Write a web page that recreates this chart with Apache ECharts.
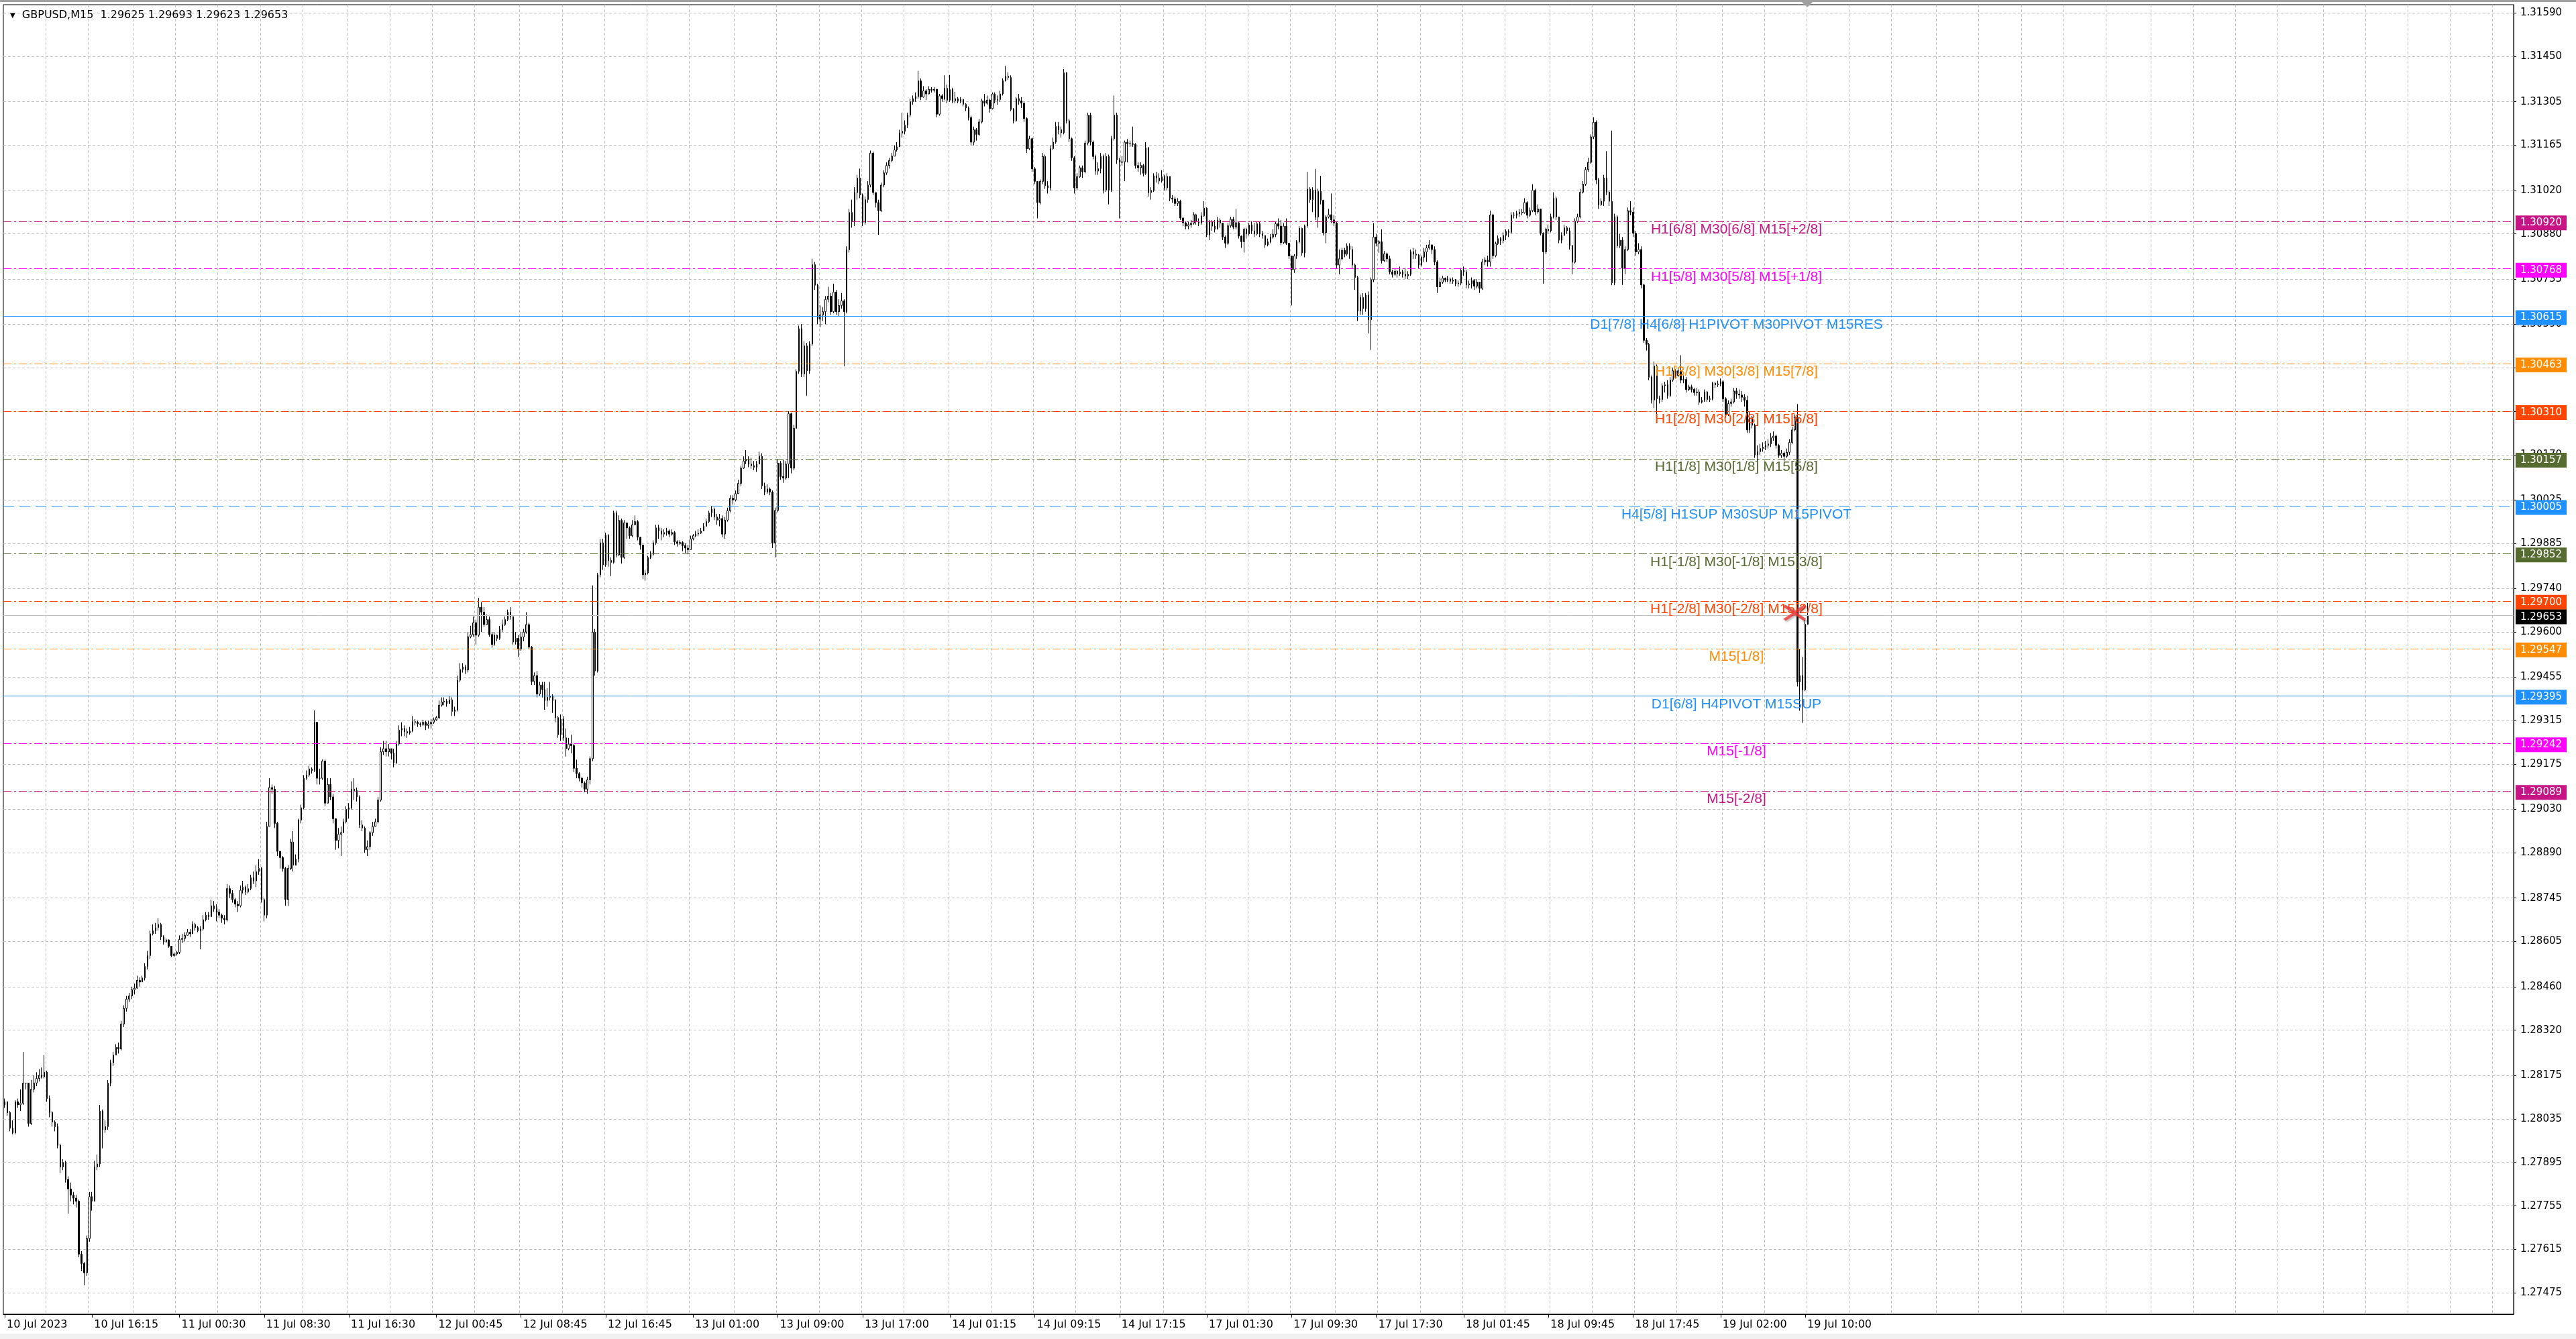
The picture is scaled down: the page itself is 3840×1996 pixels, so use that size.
<!DOCTYPE html>
<html>
<head>
<meta charset="utf-8">
<title>GBPUSD,M15</title>
<script src="https://cdn.jsdelivr.net/npm/echarts@6/dist/echarts.min.js"></script>
<style>
html, body { margin: 0; padding: 0; background: #fff; }
#main { width: 3840px; height: 1996px; }
</style>
</head>
<body>
<div id="main"></div>
<script>
var symbolName = 'GBPUSD,M15';
// prices are stored as points (0.00001) above 1.27000, open of a bar = close of the one before
var basePrice = 1.27;
var firstOpen = 1080;

var closes = [
    // 10 Jul 08:00 ...
    1090,1055,1005,990,1090,1080,1085,1150,1150,1020,
    1130,1150,1165,1175,1170,1185,1100,1055,1025,1010,
    950,880,895,840,810,790,780,770,600,570,
    540,650,785,770,880,890,1060,1000,1010,1150,
    1215,1240,1265,1260,1340,1390,1420,1430,1450,1455,
    1480,1475,1488,1525,1560,1630,1640,1650,1660,1620,
    1605,1610,1590,1560,1565,1570,1612,1615,1625,1635,
    1630,1660,1650,1640,1645,1675,1690,1685,1720,1710,
    1700,1690,1680,1675,1775,1760,1740,1725,1720,1770,
    1780,1765,1775,1810,1800,1830,1840,1740,1690,1975,
    2100,2095,1985,1895,1875,1840,1740,1840,1925,1850,
    1870,1995,2035,2130,2140,2160,2155,2310,2130,2130,
    2185,2050,2110,2070,2000,1930,1950,1955,1990,2030,
    2035,2095,2090,2070,1980,1970,1900,1910,1955,1975,
    1990,2060,2215,2225,2215,2225,2210,2180,2240,2285,
    2290,2280,2275,2282,2312,2310,2305,2303,2310,2300,
    2305,2310,2318,2325,2365,2375,2378,2370,2382,2345,
    2350,2445,2480,2488,2478,2585,2592,2630,2590,2680,
    // bar 180
    2664,2624,2640,2592,2560,2590,2580,2608,2624,2640,
    2664,2650,2568,2580,2545,2584,2600,2624,2552,2441,
    2460,2401,2430,2415,2380,2390,2395,2380,2325,2270,
    2320,2260,2225,2240,2235,2162,2145,2130,2115,2095,
    2125,2193,2600,2475,2784,2887,2816,2911,2830,2824,
    2983,2848,2959,2840,2951,2935,2910,2945,2955,2905,
    2880,2784,2790,2840,2850,2887,2935,2925,2915,2920,
    2925,2915,2920,2890,2885,2888,2878,2870,2865,2900,
    2910,2915,2918,2925,2940,2955,2983,2995,2970,2960,
    2965,2915,2960,2990,3030,3025,3045,3078,3127,3150,
    3155,3140,3135,3130,3140,3165,3070,3050,3060,3050,
    2887,2991,3143,3100,3095,3140,3302,3127,3255,3438,
    3575,3430,3520,3440,3526,3781,3715,3606,3620,3630,
    3670,3680,3630,3693,3630,3650,3665,3630,3829,3949,
    3920,4013,4060,4005,3917,3990,4037,4140,4013,3981,
    3955,4037,4076,4100,4116,4130,4150,4160,4204,4210,
    4230,4262,4305,4315,4322,4372,4320,4340,4330,4345,
    4342,4345,4265,4324,4315,4348,4310,
    // bar 357
    4344,4308,4315,4308,4312,4297,4285,4254,4175,4215,
    4200,4240,4308,4300,4310,4283,4330,4310,4312,4330,
    4373,4387,4383,4280,4244,4315,4308,4300,4251,4154,
    4186,4089,4049,3981,4049,4129,4035,4028,4154,4175,
    4226,4215,4205,4398,4244,4186,4125,4028,4064,4093,
    4080,4172,4262,4175,4129,4082,4090,4129,4021,4129,
    4021,4186,4262,4118,4110,4112,4175,4170,4170,4168,
    4100,4093,4100,4075,4157,4013,4020,4067,4060,4050,
    4064,4028,4065,3995,3992,3978,3985,3931,3916,3905,
    3910,3915,3942,3920,3915,3938,3963,3877,3920,3905,
    3895,3924,3915,3870,3850,3906,3927,3902,3916,3873,
    3855,3895,3880,3909,3890,3880,3913,3880,3875,3845,
    3855,3870,3878,3913,3905,3852,3905,3850,3809,3765,
    3809,3855,3898,3819,3906,4024,3990,4021,3934,4017,
    3988,3884,3934,3942,3925,3915,3780,3800,3827,3815,
    3841,3830,3780,3740,3632,3676,3640,3683,3604,3733,
    3870,3850,3855,3794,3816,3800,3758,3750,3760,3752,
    3758,3750,3745,3750,3823,3815,3812,3780,3805,
    // bar 536
    3822,3835,3845,3830,3790,3710,3725,3738,3732,3735,
    3728,3732,3720,3722,3763,3758,3716,3720,3730,3712,
    3725,3705,3790,3796,3790,3941,3810,3849,3865,3858,
    3875,3888,3885,3941,3940,3945,3950,3948,3981,3940,
    3955,4020,3951,3960,3882,3822,3895,3890,3935,3994,
    3935,3860,3875,3900,3890,3842,3789,3921,3935,4014,
    4040,4087,4110,4192,4239,4054,3974,3985,4060,4014,
    3985,3723,3935,3842,3860,3770,3830,3955,3950,3882,
    3822,3830,3716,3538,3525,3419,3346,3455,3350,3348,
    3392,3395,3360,3410,3440,3425,3440,3410,3412,3380,
    3388,3380,3370,3372,3339,3345,3372,3348,3350,3400,
    3395,3398,3405,3350,3300,3335,3340,3375,3365,3362,
    3355,3345,3250,3290,3265,3170,3180,3190,3195,3200,
    3205,3225,3230,3200,3168,3175,3165,3178,3210,3250,
    3290,2440,2460,2414,2625,2653
];

var highs = [
    1100,1090,1060,1030,1095,1100,1130,1250,1150,1150,
    1160,1175,1185,1195,1200,1240,1190,1110,1060,1030,
    1020,955,905,900,850,830,800,790,775,610,
    575,660,800,800,900,920,1080,1065,1030,1160,
    1225,1250,1275,1280,1350,1400,1430,1440,1460,1470,
    1495,1490,1495,1535,1575,1640,1660,1665,1680,1665,
    1625,1615,1612,1575,1570,1575,1625,1630,1635,1645,
    1645,1670,1665,1655,1655,1690,1700,1700,1740,1735,
    1725,1710,1695,1690,1790,1785,1770,1745,1735,1785,
    1800,1785,1790,1820,1830,1850,1870,1845,1745,1990,
    2130,2110,2105,1990,1895,1880,1845,1850,1935,1960,
    1885,2000,2045,2140,2155,2170,2165,2348,2310,2160,
    2190,2190,2130,2130,2080,1995,1970,1975,2000,2040,
    2050,2120,2130,2100,2075,1995,1975,1930,1960,1990,
    2000,2070,2230,2250,2250,2240,2225,2225,2250,2300,
    2310,2300,2290,2295,2330,2320,2315,2310,2318,2315,
    2315,2320,2325,2330,2380,2390,2390,2385,2395,2390,
    2360,2460,2500,2500,2495,2600,2620,2650,2640,2710,
    2696,2680,2656,2650,2600,2600,2592,2620,2640,2650,
    2672,2680,2650,2600,2590,2600,2610,2664,2630,2555,
    2470,2475,2440,2440,2440,2420,2440,2400,2385,2330,
    2335,2330,2290,2260,2270,2240,2190,2150,2135,2120,
    2135,2200,2750,2610,2790,2900,2900,2920,2915,2840,
    2990,2990,2975,2965,2960,2950,2940,2960,2975,2960,
    2905,2880,2800,2845,2860,2895,2945,2945,2935,2930,
    2935,2930,2930,2925,2895,2895,2892,2885,2880,2910,
    2915,2925,2930,2935,2950,2965,2990,3005,3000,2980,
    2980,2975,2970,3000,3040,3040,3055,3090,3135,3165,
    3185,3165,3160,3150,3150,3180,3175,3080,3075,3065,
    3055,3000,3155,3150,3155,3150,3310,3305,3265,3445,
    3585,3590,3535,3530,3535,3800,3790,3720,3650,3645,
    3680,3710,3690,3720,3700,3670,3690,3670,3840,3960,
    3990,4030,4070,4090,4010,4000,4050,4148,4145,4010,
    3990,4045,4085,4110,4125,4140,4165,4175,4215,4270,
    4245,4270,4315,4325,4335,4404,4380,4355,4345,4355,
    4352,4352,4345,4330,4330,4390,4360,
    4391,4350,4337,4320,4320,4315,4300,4290,4260,4225,
    4220,4250,4315,4330,4325,4315,4335,4335,4325,4340,
    4380,4420,4400,4390,4285,4320,4330,4320,4305,4255,
    4195,4190,4095,4050,4055,4140,4135,4050,4165,4190,
    4240,4240,4225,4410,4400,4250,4190,4130,4075,4100,
    4100,4180,4270,4270,4180,4135,4110,4140,4135,4140,
    4135,4195,4325,4270,4125,4130,4180,4185,4180,4225,
    4172,4110,4110,4105,4175,4160,4030,4075,4080,4075,
    4085,4070,4075,4065,4005,4000,3995,3990,3935,3920,
    3920,3925,3950,3945,3930,3950,3985,3965,3925,3925,
    3925,3935,3930,3915,3875,3915,3935,3935,3960,3920,
    3875,3900,3900,3915,3920,3915,3920,3918,3890,3875,
    3865,3880,3895,3920,3930,3925,3915,3930,3850,3810,
    3815,3860,3905,3900,3910,4080,4030,4030,4089,4025,
    4067,3990,3940,3960,4010,3940,3918,3830,3835,3835,
    3850,3850,3840,3785,3745,3685,3690,3690,3695,3740,
    3915,3880,3860,3895,3825,3820,3810,3765,3770,3765,
    3775,3765,3770,3760,3830,3835,3830,3815,3810,
    3835,3845,3860,3845,3840,3795,3740,3745,3740,3745,
    3740,3740,3735,3730,3770,3775,3765,3730,3740,3735,
    3735,3725,3800,3805,3810,3955,3945,3855,3875,3870,
    3885,3895,3895,3950,3950,3955,3960,3960,3995,3985,
    3965,4040,4025,3975,3955,3885,3900,3910,3945,4014,
    4000,3935,3885,3910,3905,3900,3845,3930,3945,4025,
    4050,4095,4125,4200,4255,4245,4060,3995,4070,4146,
    4020,4212,3945,3940,3880,3870,3840,3965,3985,3965,
    3890,3850,3840,3720,3545,3530,3425,3470,3460,3360,
    3400,3405,3410,3420,3450,3445,3450,3490,3425,3420,
    3395,3395,3385,3385,3380,3355,3380,3375,3360,3405,
    3405,3408,3415,3410,3355,3345,3350,3385,3385,3380,
    3375,3365,3360,3310,3295,3270,3200,3205,3210,3215,
    3220,3240,3245,3235,3205,3185,3180,3190,3220,3260,
    3300,3333,2545,2520,2640,2693
];

var lows = [
    1070,1045,995,985,985,1070,1060,1080,1130,1010,
    1015,1120,1140,1155,1165,1165,1090,1040,1010,995,
    940,860,870,830,730,770,760,750,590,545,
    500,530,640,740,770,870,880,940,990,1000,
    1140,1205,1240,1245,1255,1330,1380,1410,1420,1435,
    1455,1460,1475,1480,1515,1550,1625,1630,1640,1610,
    1595,1600,1585,1555,1555,1560,1565,1600,1605,1625,
    1620,1630,1640,1635,1580,1640,1670,1675,1690,1700,
    1670,1680,1665,1660,1670,1745,1730,1715,1700,1715,
    1760,1755,1760,1770,1790,1780,1820,1730,1670,1680,
    1975,2080,1970,1880,1840,1830,1720,1720,1835,1830,
    1850,1860,1985,2030,2125,2135,2145,2150,2110,2110,
    2125,2040,2100,2060,1985,1900,1905,1880,1960,1985,
    2000,2030,2060,2055,1970,1960,1890,1880,1900,1945,
    1975,1985,2055,2205,2200,2200,2190,2165,2175,2235,
    2265,2265,2260,2270,2278,2300,2295,2295,2298,2285,
    2290,2290,2305,2315,2320,2360,2365,2360,2370,2330,
    2330,2345,2440,2470,2465,2470,2580,2585,2560,2585,
    2600,2616,2630,2585,2550,2555,2570,2575,2600,2620,
    2635,2640,2560,2560,2520,2540,2570,2595,2545,2430,
    2430,2390,2395,2390,2350,2360,2380,2340,2310,2260,
    2250,2250,2200,2220,2210,2150,2130,2120,2100,2085,
    2080,2110,2185,2460,2470,2776,2800,2810,2810,2780,
    2820,2840,2845,2820,2835,2900,2900,2905,2945,2895,
    2865,2770,2765,2785,2835,2845,2880,2900,2895,2905,
    2910,2905,2910,2880,2875,2880,2860,2855,2850,2865,
    2895,2905,2908,2915,2925,2940,2950,2970,2960,2945,
    2940,2905,2900,2955,2985,3010,3020,3045,3070,3125,
    3140,3130,3125,3120,3115,3140,3060,3040,3045,3040,
    2870,2840,2985,3090,3080,3090,3095,3110,3120,3255,
    3430,3420,3420,3360,3430,3520,3700,3590,3580,3600,
    3590,3660,3620,3625,3620,3615,3640,3455,3625,3820,
    3900,3905,3990,3995,3905,3910,3980,4030,4005,3965,
    3877,3950,4030,4070,4090,4110,4130,4145,4160,4190,
    4200,4220,4255,4295,4305,4315,4310,4318,4310,4335,
    4335,4335,4255,4260,4305,4310,4300,
    4305,4300,4300,4300,4300,4290,4275,4245,4165,4165,
    4180,4195,4235,4290,4295,4270,4280,4300,4295,4305,
    4325,4370,4375,4275,4235,4240,4295,4285,4240,4140,
    4150,4080,4040,3930,3975,4040,4025,4010,4020,4150,
    4170,4200,4190,4200,4235,4175,4115,4010,4020,4060,
    4060,4075,4165,4165,4120,4070,4070,4075,4010,4015,
    3975,4015,4180,4105,3930,4100,4050,4110,4160,4160,
    4090,4080,4070,4065,4070,4000,3990,4015,4045,4040,
    4045,4020,4020,3985,3980,3970,3970,3925,3905,3895,
    3895,3900,3910,3910,3905,3910,3935,3870,3860,3890,
    3885,3895,3900,3860,3835,3845,3900,3895,3895,3865,
    3835,3820,3865,3875,3880,3870,3875,3870,3865,3835,
    3840,3850,3865,3870,3895,3845,3848,3845,3800,3650,
    3755,3800,3850,3810,3805,3900,3980,3950,3925,3900,
    3975,3875,3850,3930,3915,3905,3770,3750,3795,3805,
    3810,3800,3770,3700,3600,3620,3620,3630,3560,3507,
    3725,3840,3820,3785,3790,3790,3750,3740,3745,3740,
    3745,3740,3735,3735,3745,3800,3800,3770,3775,
    3790,3790,3830,3815,3780,3690,3710,3720,3725,3725,
    3720,3720,3712,3710,3715,3745,3705,3705,3705,3700,
    3705,3690,3700,3780,3775,3775,3800,3805,3845,3845,
    3850,3860,3870,3880,3930,3930,3935,3940,3945,3930,
    3935,3950,3940,3945,3875,3720,3815,3880,3885,3930,
    3925,3850,3850,3885,3880,3830,3750,3785,3915,3930,
    4010,4035,4080,4105,4185,4040,3960,3970,3970,4005,
    3970,3715,3715,3835,3835,3716,3750,3825,3940,3870,
    3810,3815,3705,3530,3505,3410,3335,3320,3300,3335,
    3340,3370,3350,3355,3405,3415,3420,3400,3400,3370,
    3375,3370,3360,3360,3330,3335,3340,3340,3340,3345,
    3385,3388,3390,3340,3290,3295,3325,3335,3350,3350,
    3340,3325,3240,3240,3255,3160,3150,3170,3180,3185,
    3190,3195,3215,3190,3160,3160,3150,3160,3170,3205,
    3245,2425,2347,2308,2410,2623
];

// time labels on the bottom axis and the bar they sit on
var xLabelText = ['10 Jul 2023','10 Jul 16:15','11 Jul 00:30','11 Jul 08:30','11 Jul 16:30','12 Jul 00:45',
    '12 Jul 08:45','12 Jul 16:45','13 Jul 01:00','13 Jul 09:00','13 Jul 17:00','14 Jul 01:15','14 Jul 09:15',
    '14 Jul 17:15','17 Jul 01:30','17 Jul 09:30','17 Jul 17:30','18 Jul 01:45','18 Jul 09:45','18 Jul 17:45',
    '19 Jul 02:00','19 Jul 10:00'];
var xLabelBar = [0,33,66,98,130,163,195,227,260,292,324,357,389,421,454,486,518,551,583,615,648,680];

// price scale labels
var yTicks = [1.31590,1.31450,1.31305,1.31165,1.31020,1.30880,1.30735,1.30590,1.30450,1.30310,
    1.30170,1.30025,1.29885,1.29740,1.29600,1.29455,1.29315,1.29175,1.29030,1.28890,1.28745,
    1.28605,1.28460,1.28320,1.28175,1.28035,1.27895,1.27755,1.27615,1.27475];

// murrey math / pivot levels
var levelPrices = [1.30920,1.30768,1.30615,1.30463,1.30310,1.30157,1.30005,1.29852,1.29700,1.29547,1.29395,1.29242,1.29089];
var levelTexts = [
    'H1[6/8] M30[6/8] M15[+2/8]',
    'H1[5/8] M30[5/8] M15[+1/8]',
    'D1[7/8] H4[6/8] H1PIVOT M30PIVOT M15RES',
    'H1[3/8] M30[3/8] M15[7/8]',
    'H1[2/8] M30[2/8] M15[6/8]',
    'H1[1/8] M30[1/8] M15[5/8]',
    'H4[5/8] H1SUP M30SUP M15PIVOT',
    'H1[-1/8] M30[-1/8] M15[3/8]',
    'H1[-2/8] M30[-2/8] M15[2/8]',
    'M15[1/8]',
    'D1[6/8] H4PIVOT M15SUP',
    'M15[-1/8]',
    'M15[-2/8]'
];

// the red cross object: [bar, price]
var signalMark = [676, 1.29662];

// ---- styles ----
var levelColors = ['#c71585','#ff00ff','#1e90ff','#ff8c00','#ff4500','#556b2f','#1e90ff','#556b2f','#ff4500','#ff8c00','#1e90ff','#ff00ff','#c71585'];
var dashDot = [12, 4, 3, 4];
var levelDash = [dashDot, dashDot, 'solid', dashDot, dashDot, dashDot, [16, 8], dashDot, dashDot, dashDot, 'solid', dashDot, dashDot];

var totalSlots = 948;      // bars that fit in the window
var barPitch = 3742 / totalSlots;

function px(v) {
    return +(basePrice + v / 100000).toFixed(5);
}

var candles = [];
for (var i = 0; i < closes.length; i++) {
    var o = i === 0 ? firstOpen : closes[i - 1];
    var c = closes[i];
    var h = Math.max(highs[i], o, c);
    var l = Math.min(lows[i], o, c);
    candles.push([px(o), px(c), px(l), px(h)]);
}
var last = candles[candles.length - 1];
var bidPrice = last[1];

var cats = [];
for (var k = 0; k < totalSlots; k++) cats.push(String(k));

var labelAt = {};
xLabelBar.forEach(function (b, j) { labelAt[b] = xLabelText[j]; });

// vertical grid every 64 px like the terminal
var gridAt = {};
for (var n = 1; n * 64 < 3742; n++) gridAt[Math.round(n * 64 / barPitch)] = true;

var axisFont = 'DejaVu Sans';
var levelFont = 'Liberation Sans';

function boxLabel(text, bg) {
    return {
        show: true, position: 'end', formatter: text, distance: 3, offset: [0, 2],
        backgroundColor: bg, color: '#fff', padding: [4, 7, 3, 7],
        fontFamily: axisFont, fontSize: 15
    };
}

var levelLines = levelPrices.map(function (p, i) {
    return {
        yAxis: p,
        lineStyle: { color: levelColors[i], type: levelDash[i], width: 1 },
        label: boxLabel(p.toFixed(5), levelColors[i])
    };
});
levelLines.push({
    yAxis: bidPrice,
    lineStyle: { color: '#c0c0c0', type: 'solid', width: 1 },
    label: boxLabel(bidPrice.toFixed(5), '#000')
});

var levelTextLines = levelPrices.map(function (p, i) {
    return [
        {
            name: levelTexts[i], coord: [620, p],
            label: { color: levelColors[i] }
        },
        { coord: [688, p] }
    ];
});

var fmt = function (v) { return v.toFixed(5); };
var titleText = '{t|\u25BC}  ' + symbolName + '  ' + fmt(last[0]) + ' ' + fmt(last[3]) + ' ' + fmt(last[2]) + ' ' + fmt(last[1]);

var myChart = echarts.init(document.getElementById('main'), null, { renderer: 'canvas' });

option = {
    animation: false,
    backgroundColor: '#fff',
    title: {
        text: titleText,
        left: 10,
        top: 10,
        textStyle: {
            fontFamily: axisFont, fontSize: 16, fontWeight: 'normal', color: '#000',
            rich: { t: { fontSize: 10, color: '#000' } }
        }
    },
    grid: {
        left: 5, right: 93, top: 7, bottom: 37,
        show: true, borderColor: '#000', borderWidth: 1, backgroundColor: '#fff'
    },
    xAxis: {
        type: 'category',
        data: cats,
        boundaryGap: true,
        axisLine: { show: true, lineStyle: { color: '#000', width: 1 } },
        axisTick: {
            show: true, alignWithLabel: true, length: 5,
            interval: function (i) { return labelAt[i] !== undefined; },
            lineStyle: { color: '#000' }
        },
        axisLabel: {
            interval: function (i) { return labelAt[i] !== undefined; },
            formatter: function (v, i) { return labelAt[i] || ''; },
            align: 'left', margin: 8, padding: [0, 0, 0, 3],
            color: '#000', fontFamily: axisFont, fontSize: 16
        },
        splitLine: {
            show: true,
            interval: function (i) { return gridAt[i] === true; },
            lineStyle: { color: '#c0c0c0', type: [4, 3], width: 1 }
        }
    },
    yAxis: {
        type: 'value',
        position: 'right',
        min: 1.27407,
        max: 1.31617,
        scale: true,
        axisLine: { show: true, lineStyle: { color: '#000' } },
        axisTick: { show: true, customValues: yTicks, length: 4, lineStyle: { color: '#000' } },
        axisLabel: {
            customValues: yTicks, formatter: fmt, margin: 10,
            color: '#000', fontFamily: axisFont, fontSize: 15
        },
        splitLine: { show: true, lineStyle: { color: '#c0c0c0', type: [4, 3], width: 1 } }
    },
    series: [
        {
            name: symbolName,
            type: 'candlestick',
            data: candles,
            large: false,
            barWidth: 2,
            itemStyle: {
                color: '#ffffff', color0: '#000000',
                borderColor: '#000000', borderColor0: '#000000', borderColorDoji: '#000000',
                borderWidth: 1
            },
            markLine: {
                silent: true,
                symbol: ['none', 'none'],
                animation: false,
                precision: 5,
                data: levelLines
            }
        },
        {
            name: 'signal',
            type: 'scatter',
            data: [signalMark],
            z: 5,
            symbol: 'path://M2,0 L10,6 L18,0 L20,2 L12,8 L20,14 L18,16 L10,10 L2,16 L0,14 L8,8 L0,2 Z',
            symbolSize: [34, 24],
            itemStyle: {
                color: '#ee3535', shadowColor: 'rgba(0,0,0,0.35)', shadowBlur: 3,
                shadowOffsetX: 2, shadowOffsetY: 2
            },
            markLine: {
                silent: true,
                symbol: ['none', 'none'],
                animation: false,
                precision: 5,
                lineStyle: { color: 'rgba(0,0,0,0)', width: 0 },
                label: {
                    show: true, position: 'insideMiddleBottom', formatter: '{b}', distance: 2,
                    fontFamily: levelFont, fontSize: 21
                },
                data: levelTextLines
            }
        }
    ],
    graphic: [
        { type: 'rect', left: 0, top: 0, shape: { width: 3840, height: 3 }, style: { fill: '#a0a0a0' }, silent: true },
        { type: 'rect', left: 0, bottom: 0, shape: { width: 3840, height: 8 }, style: { fill: '#f0f0f0' }, silent: true },
        { type: 'polygon', shape: { points: [[2686, 3], [2702, 3], [2694, 11]] }, style: { fill: '#a0a0a0' }, silent: true }
    ]
};

myChart.setOption(option);
</script>
</body>
</html>
